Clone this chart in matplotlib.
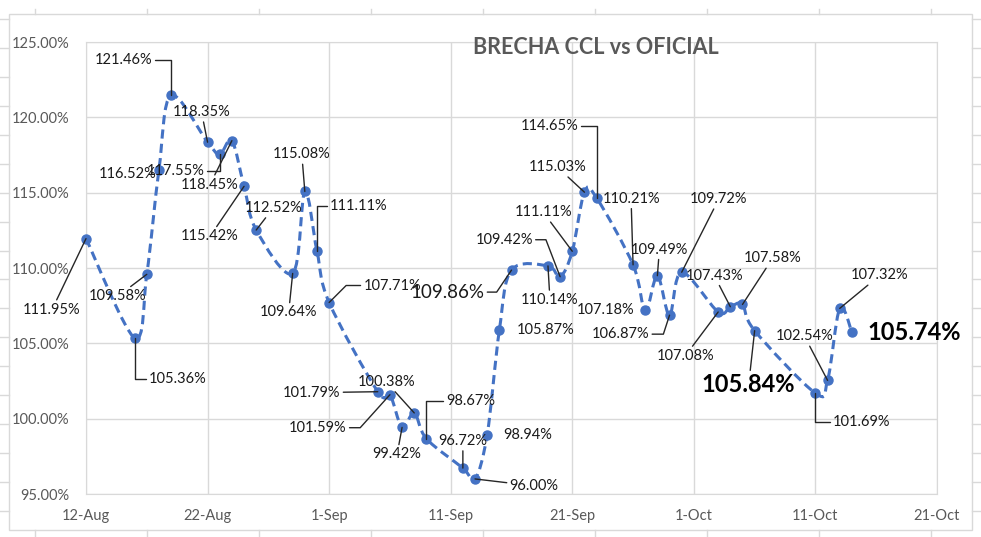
import matplotlib
matplotlib.use("Agg")
import matplotlib.pyplot as plt
import matplotlib.dates as mdates
from matplotlib.path import Path
from matplotlib.patches import PathPatch, Rectangle
from matplotlib.lines import Line2D
import numpy as np
import pandas as pd

plt.rcParams['font.family'] = ['Lato', 'DejaVu Sans']

# data: brecha CCL vs oficial (2022)
fechas = ['2022-08-12', '2022-08-16', '2022-08-17', '2022-08-18', '2022-08-19',
          '2022-08-22', '2022-08-23', '2022-08-24', '2022-08-25', '2022-08-26',
          '2022-08-29', '2022-08-30', '2022-08-31', '2022-09-01',
          '2022-09-05', '2022-09-06', '2022-09-07', '2022-09-08', '2022-09-09',
          '2022-09-12', '2022-09-13', '2022-09-14', '2022-09-15', '2022-09-16',
          '2022-09-19', '2022-09-20', '2022-09-21', '2022-09-22', '2022-09-23',
          '2022-09-26', '2022-09-27', '2022-09-28', '2022-09-29', '2022-09-30',
          '2022-10-03', '2022-10-04', '2022-10-05', '2022-10-06',
          '2022-10-11', '2022-10-12', '2022-10-13', '2022-10-14']
brecha = [111.95, 105.36, 109.58, 116.52, 121.46,
          118.35, 117.55, 118.45, 115.42, 112.52,
          109.64, 115.08, 111.11, 107.71,
          101.79, 101.59, 99.42, 100.38, 98.67,
          96.72, 96.00, 98.94, 105.87, 109.86,
          110.14, 109.42, 111.11, 115.03, 114.65,
          110.21, 107.18, 109.49, 106.87, 109.72,
          107.08, 107.43, 107.58, 105.84,
          101.69, 102.54, 107.32, 105.74]

x_ticks = ['2022-08-12', '2022-08-22', '2022-09-01', '2022-09-11',
           '2022-09-21', '2022-10-01', '2022-10-11', '2022-10-21']
x_labels = ['12-Aug', '22-Aug', '1-Sep', '11-Sep', '21-Sep', '1-Oct', '11-Oct', '21-Oct']
y_ticks = [95, 100, 105, 110, 115, 120, 125]

# label placement (pixel offsets from the point, leader style)
H = "angle,angleA=0,angleB=90,rad=0"
offsets = [(-34, -71, 'l'), (43, -41, H), (-29, -22, 'l'), (-31, -4, None), (-48, 35, H),
           (-6, 30, 'l'), (-44, -17, H), (-22, -44, 'l'), (-34, -50, 'l'), (17, 22, 'l'),
           (-4, -39, 'l'), (-3, 37, 'l'), (42, 45, H), (63, 17, "angle,angleA=0,angleB=45,rad=0"),
           (-66, -1, 'l'), (-72, -33, "angle,angleA=0,angleB=48,rad=0"), (-5, -27, 'l'),
           (-28, 31, 'l'), (44, 38, H),
           (0, 27, 'l'), (59, -7, 'l'), (41, 0, None), (46, 0, None),
           (-64, -22, "angle,angleA=0,angleB=56,rad=0"),
           (2, -34, 'l'), (-56, 37, "angle,angleA=0,angleB=-69,rad=0"), (-29, 39, 'l'),
           (-27, 25, 'l'), (-47, 72, H),
           (-2, 66, 'l'), (-40, 0, None), (2, 26, 'l'), (-49, -19, "angle,angleA=0,angleB=72,rad=0"),
           (37, 73, 'l'),
           (-33, -44, 'l'), (-16, 31, 'l'), (30, 46, 'l'), (-6, -54, 'l'),
           (46, -29, H), (-23, 44, 'l'), (40, 33, 'l'), (62, 0, None)]

azul = '#4472C4'
gris = '#D9D9D9'
txt = '#595959'

x = mdates.date2num(pd.to_datetime(fechas))
xt = mdates.date2num(pd.to_datetime(x_ticks))

fig = plt.figure(figsize=(9.81, 5.37), dpi=100)
W, Hh = 981, 537
ax = fig.add_axes([86 / W, 1 - 494 / Hh, (937 - 86) / W, (494 - 42) / Hh])

# smoothed line (bezier through the points, like excel)
pts = np.column_stack([x, brecha])
n = len(pts)
verts = [pts[0]]
codes = [Path.MOVETO]
for i in range(n - 1):
    p0 = pts[i - 1] if i > 0 else pts[i]
    p1, p2 = pts[i], pts[i + 1]
    p3 = pts[i + 2] if i + 2 < n else pts[i + 1]
    verts += [p1 + (p2 - p0) / 6, p2 - (p3 - p1) / 6, p2]
    codes += [Path.CURVE4] * 3
ax.add_patch(PathPatch(Path(verts, codes), fill=False, edgecolor=azul, lw=2.2,
                       linestyle=(0, (3, 1.7)), zorder=3, clip_on=False))
ax.plot(x, brecha, 'o', color=azul, ms=6.5, zorder=4, clip_on=False)

for xi, v, (dx, dy, st) in zip(x, brecha, offsets):
    lab = '{:.2f}%'.format(v)
    kw = dict(fontsize=10.5, color='#1a1a1a')
    if lab in ('105.84%', '105.74%'):
        kw = dict(fontsize=17, fontweight='bold', color='#000000')
    elif lab == '109.86%':
        kw = dict(fontsize=13.5, color='#1a1a1a')
    ap = None
    if st == 'l':
        ap = dict(arrowstyle='-', color='#262626', lw=1, shrinkA=0, shrinkB=0)
    elif st is not None:
        ap = dict(arrowstyle='-', color='#262626', lw=1, shrinkA=0, shrinkB=0,
                  connectionstyle=st)
    ax.annotate(lab, xy=(xi, v), xytext=(dx, dy), textcoords='offset pixels',
                ha='center', va='center', arrowprops=ap, zorder=5, **kw)

ax.set_xlim(xt[0], xt[-1])
ax.set_ylim(95, 125)
ax.set_xticks(xt)
ax.set_xticklabels(x_labels)
ax.set_yticks(y_ticks)
ax.set_yticklabels(['{:.2f}%'.format(t) for t in y_ticks])
ax.tick_params(length=0, labelsize=10.5, labelcolor=txt)
ax.tick_params(axis='y', pad=12)
ax.tick_params(axis='x', pad=11)
ax.grid(True, color=gris, lw=1)
ax.set_axisbelow(True)
for s in ax.spines.values():
    s.set_color(gris)

fig.text(596 / W, 1 - 47 / Hh, 'BRECHA CCL vs OFICIAL', ha='center', va='center',
         fontsize=15.5, fontweight='bold', color=txt)

# chart area border and the sheet grid peeking around it
fig.add_artist(Rectangle((9 / W, 1 - 530 / Hh), (972 - 9) / W, (530 - 14) / Hh,
                         transform=fig.transFigure, fill=False, edgecolor=gris, lw=1))
for yy in np.linspace(19, 511, 18):
    fig.add_artist(Line2D([0, 9 / W], [1 - yy / Hh] * 2, color=gris, lw=1))
    fig.add_artist(Line2D([972 / W, 1], [1 - yy / Hh] * 2, color=gris, lw=1))
for xx in range(35, 972, 112):
    fig.add_artist(Line2D([xx / W] * 2, [1 - 9 / Hh, 1 - 14 / Hh], color=gris, lw=1))
    fig.add_artist(Line2D([xx / W] * 2, [0, 1 - 530 / Hh], color=gris, lw=1))

fig.savefig('out.png', dpi=100)
